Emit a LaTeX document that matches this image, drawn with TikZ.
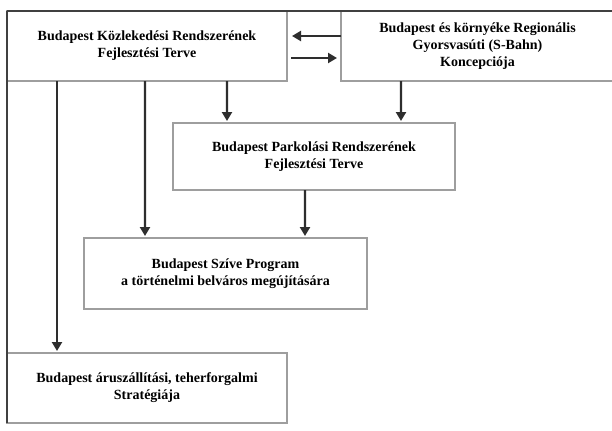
\documentclass[tikz,border=0pt]{standalone}
\usepackage{fontspec}
\setmainfont{Liberation Serif}
\usetikzlibrary{arrows.meta,calc}
\begin{document}
\begin{tikzpicture}[x=1bp,y=-1bp,
  plan/.style={draw=black!38, line width=1.2bp, fill=white, rectangle,
    outer sep=0pt, inner sep=2bp, align=center,
    font=\fontsize{14bp}{17bp}\selectfont\bfseries},
  arr/.style={draw=black!82, line width=2.4bp, shorten >=2bp,
    -{Triangle[length=9bp,width=10bp]}},
  frame/.style={draw=black!75, line width=1.4bp}]
  \useasboundingbox (0,0) rectangle (612,430);
  \fill[white] (0,0) rectangle (612,430);

  % plans and programmes
  \node[plan, minimum width=280bp, minimum height=70bp] (A) at (147,46)
    {Budapest Közlekedési Rendszerének\\Fejlesztési Terve};
  \node[plan, minimum width=273bp, minimum height=70bp] (B) at (477.5,46)
    {Budapest és környéke Regionális\\Gyorsvasúti (S-Bahn)\\Koncepciója};
  \node[plan, minimum width=282bp, minimum height=67bp] (C) at (314,156.5)
    {Budapest Parkolási Rendszerének\\Fejlesztési Terve};
  \node[plan, minimum width=283bp, minimum height=71bp] (D) at (225.5,273.5)
    {Budapest Szíve Program\\a történelmi belváros megújítására};
  \node[plan, minimum width=280bp, minimum height=70bp] (E) at (147,388)
    {Budapest áruszállítási, teherforgalmi\\Stratégiája};

  % outer frame (top and left edges)
  \draw[frame] (A.north west) -- (B.north east);
  \draw[frame] (A.north west) -- (E.south west);

  % mutual links between the two top plans
  \draw[arr] ($(B.west)+(0,-10)$) -- ($(A.east)+(3,-10)$);
  \draw[arr] ($(A.east)+(4,12)$) -- ($(B.west)+(-2,12)$);

  % downward dependencies
  \draw[arr] ($(A.south west)+(50,0)$) -- ($(E.north west)+(50,0)$);
  \draw[arr] ($(A.south west)+(138,0)$) -- ($(D.north west)+(61,0)$);
  \draw[arr] ($(A.south west)+(220,0)$) -- ($(C.north west)+(54,0)$);
  \draw[arr] ($(B.south west)+(60,0)$) -- ($(C.north west)+(228,0)$);
  \draw[arr] ($(C.south west)+(132,0)$) -- ($(D.north west)+(221,0)$);
\end{tikzpicture}
\end{document}
